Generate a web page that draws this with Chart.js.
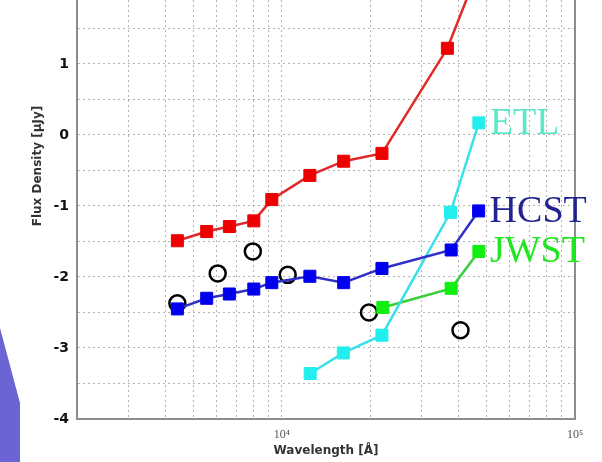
<!DOCTYPE html>
<html>
<head>
<meta charset="utf-8">
<script src="https://cdn.jsdelivr.net/npm/chart.js@4"></script>
<style>
  html, body { margin: 0; padding: 0; background: #fff; }
  #wrap { position: relative; width: 602px; height: 462px; overflow: hidden; }
  #shape { position: absolute; left: 0; top: 0; width: 602px; height: 462px;
           background: #6a64d4; clip-path: polygon(0px 328px, 20px 403px, 20px 462px, 0px 462px); }
  canvas { position: absolute; left: 0; top: 0; }
</style>
</head>
<body>
<div id="wrap">
  <div id="shape"></div>
  <canvas id="c" width="602" height="462"></canvas>
</div>
<script>
// ---- data ----
const seriesNames = ["ETL", "HCST", "JWST"];

const redX  = [4400, 5540, 6620, 8020, 9240, 12460, 16250, 21950, 36700, 47000];
const redY  = [-1.49, -1.36, -1.29, -1.21, -0.91, -0.57, -0.37, -0.26, 1.22, 2.35];

const hcstX = [4400, 5540, 6620, 8020, 9240, 12460, 16250, 21950, 37800, 46900];
const hcstY = [-2.45, -2.30, -2.24, -2.17, -2.08, -1.99, -2.08, -1.88, -1.62, -1.07];

const etlX  = [12490, 16200, 21950, 37600, 47000];
const etlY  = [-3.36, -3.07, -2.82, -1.09, 0.17];

const jwstX = [22100, 37800, 47000];
const jwstY = [-2.43, -2.16, -1.64];

const circX = [4400, 6040, 7960, 10470, 19820, 40680];
const circY = [-2.37, -1.95, -1.64, -1.97, -2.50, -2.75];

const xTicks = [2000, 3000, 4000, 5000, 6000, 7000, 8000, 9000, 10000,
                20000, 30000, 40000, 50000, 60000, 70000, 80000, 90000, 100000];
const xTickLabels = {10000: "10\u2074", 100000: "10\u2075"};
const yTicks = [-4, -3.5, -3, -2.5, -2, -1.5, -1, -0.5, 0, 0.5, 1, 1.5];

const zip = (xs, ys) => xs.map((x, i) => ({x: x, y: ys[i]}));

const labelColors = {ETL: "#5de8c8", HCST: "#23238f", JWST: "#22e622"};

const decor = {
  id: "decor",
  afterDraw(chart) {
    const ctx = chart.ctx;
    const a = chart.chartArea;
    ctx.save();
    // right frame line
    ctx.strokeStyle = "#8c8c8c";
    ctx.lineWidth = 2;
    ctx.beginPath();
    ctx.moveTo(a.right, a.top);
    ctx.lineTo(a.right, a.bottom + 1);
    ctx.stroke();
    // axis titles
    ctx.fillStyle = "#333";
    ctx.font = "bold 12px 'DejaVu Sans'";
    ctx.textAlign = "center";
    ctx.textBaseline = "middle";
    ctx.fillText("Wavelength [\u00C5]", 326, 451);
    ctx.save();
    ctx.translate(38, 166);
    ctx.rotate(-Math.PI / 2);
    ctx.fillText("Flux Density [\u03BCJy]", 0, 0);
    ctx.restore();
    // series labels next to last point
    ctx.font = "38px 'Liberation Serif'";
    ctx.textAlign = "left";
    ctx.textBaseline = "alphabetic";
    chart.data.datasets.forEach((ds, i) => {
      if (!seriesNames.includes(ds.label)) return;
      const pts = chart.getDatasetMeta(i).data;
      const p = pts[pts.length - 1];
      ctx.fillStyle = labelColors[ds.label];
      ctx.fillText(ds.label, p.x + 11, p.y + 11);
    });
    ctx.restore();
  }
};

const sq = (line, fill) => ({
  showLine: true, borderColor: line, backgroundColor: fill, borderWidth: 2.5,
  pointStyle: "rect", pointRadius: 8.5, pointBackgroundColor: fill,
  pointBorderColor: fill, pointBorderWidth: 1, tension: 0
});

new Chart(document.getElementById("c"), {
  type: "scatter",
  data: {
    datasets: [
      Object.assign({label: "red", data: zip(redX, redY)}, sq("#e02828", "#ee0000")),
      Object.assign({label: "HCST", data: zip(hcstX, hcstY)}, sq("#3030c8", "#0000ee")),
      Object.assign({label: "ETL", data: zip(etlX, etlY)}, sq("#38e0e8", "#22eeee")),
      Object.assign({label: "JWST", data: zip(jwstX, jwstY)}, sq("#38d038", "#11ee11")),
      {label: "obs", data: zip(circX, circY), showLine: false, pointStyle: "circle",
       pointRadius: 8, pointBorderWidth: 2.5, pointBorderColor: "#000",
       pointBackgroundColor: "rgba(0,0,0,0)"}
    ]
  },
  options: {
    responsive: false,
    animation: false,
    layout: {autoPadding: false, padding: {left: 0, right: 27, top: 0, bottom: 0}},
    plugins: {legend: {display: false}, tooltip: {enabled: false}},
    scales: {
      x: {
        type: "logarithmic", min: 2000, max: 100000,
        afterBuildTicks: s => { s.ticks = xTicks.map(v => ({value: v})); },
        afterFit: s => { s.height = 43; s.paddingLeft = 0; s.paddingRight = 0; },
        ticks: {
          autoSkip: false, maxRotation: 0, padding: 9, color: "#555",
          font: {family: "'Liberation Serif'", size: 12},
          callback: v => xTickLabels[v] || ""
        },
        grid: {
          drawTicks: false, lineWidth: 1,
          color: c => (c.tick && (c.tick.value === 2000 || c.tick.value === 100000)) ? "rgba(0,0,0,0)" : "#b4b4b4"
        },
        border: {display: true, color: "#8c8c8c", width: 2, dash: [2, 3]}
      },
      y: {
        type: "linear", min: -4, max: 1.9,
        afterBuildTicks: s => { s.ticks = yTicks.map(v => ({value: v})); },
        afterFit: s => { s.width = 77; s.paddingTop = 0; s.paddingBottom = 0; },
        ticks: {
          autoSkip: false, padding: 8, color: "#111",
          font: {family: "'DejaVu Sans'", size: 14, weight: "bold"},
          callback: v => Number.isInteger(v) ? String(v) : ""
        },
        grid: {
          drawTicks: false, lineWidth: 1,
          color: c => (c.tick && c.tick.value === -4) ? "rgba(0,0,0,0)" : "#b4b4b4"
        },
        border: {display: true, color: "#8c8c8c", width: 2, dash: [2, 3]}
      }
    }
  },
  plugins: [decor]
});
</script>
</body>
</html>
